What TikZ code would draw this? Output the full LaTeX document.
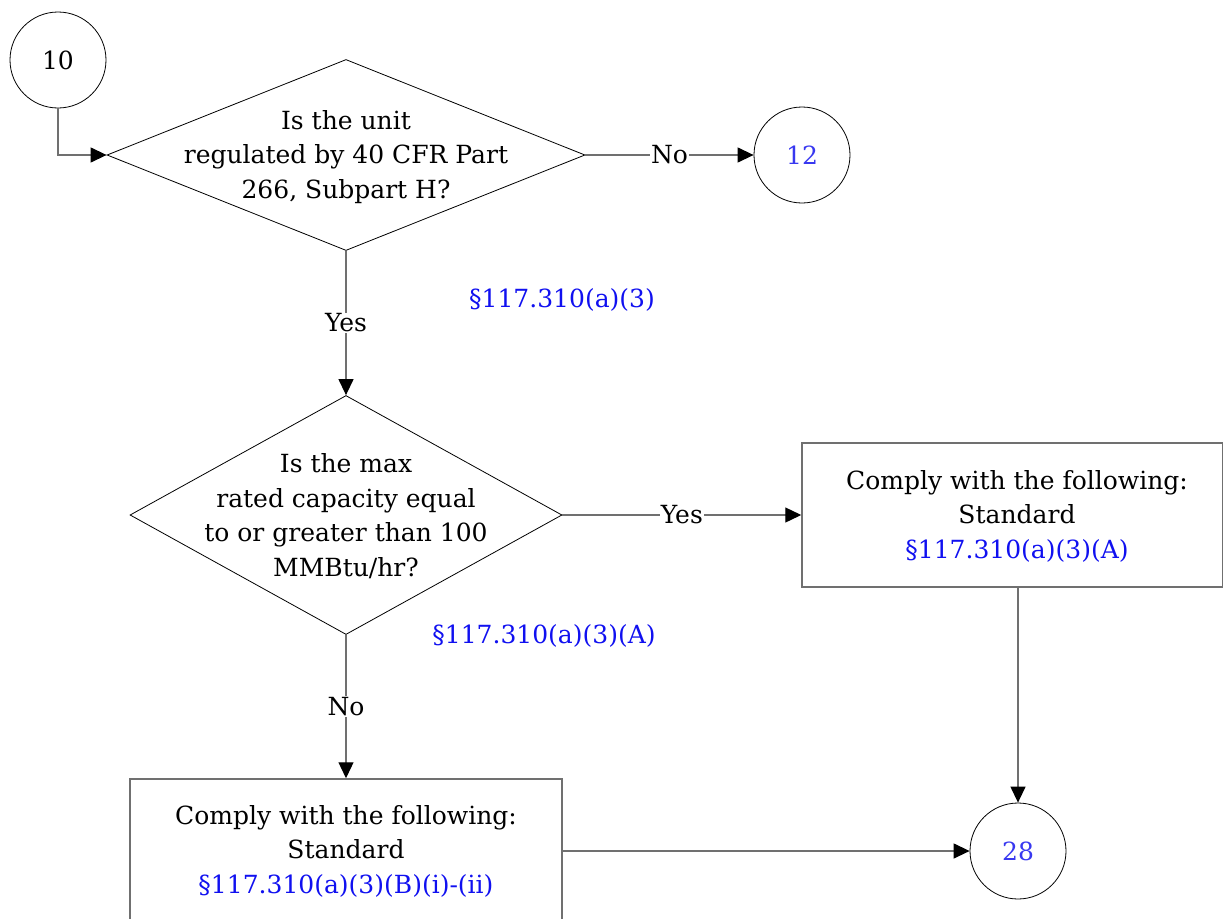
\documentclass[tikz,border=0pt]{standalone}
\usepackage{fontspec}
\setmainfont{DejaVu Serif}
\usetikzlibrary{shapes.geometric,arrows.meta}
\definecolor{linegray}{HTML}{707070}
\definecolor{refblue}{HTML}{1010F0}
\definecolor{numblue}{HTML}{3838F0}
\begin{document}
\begin{tikzpicture}[x=1pt,y=-1pt,
  every node/.style={font=\fontsize{25}{34.5}\selectfont},
  conn/.style={draw=linegray, line width=1.3pt, -{Triangle[length=16pt,width=15pt,color=black]}},
  dia/.style={diamond, draw=black, line width=0.8pt, inner sep=0pt, aspect=1},
  txt/.style={align=center, inner sep=0pt},
  boxst/.style={draw=linegray, line width=1.5pt, inner sep=0pt},
  conncirc/.style={circle, draw=black, line width=0.8pt, minimum size=96pt, inner sep=0pt},
  lab/.style={fill=white, inner sep=1pt},
  ref/.style={text=refblue}]
\useasboundingbox (0,0) rectangle (1223,918);

% start connector circle
\node[conncirc] (c10) at (58,60) {10};

% decision 1
\node[dia, minimum width=478pt, minimum height=191pt] (d1) at (346,155) {};
\node[txt] (d1t) at (346,157) {Is the unit\\regulated by 40 CFR Part\\266, Subpart H?};

% connector 12
\node[conncirc, text=numblue] (c12) at (802,155) {12};

% reference label
\node[ref, txt] (r1) at (562,300) {§117.310(a)(3)};

% decision 2
\node[dia, minimum width=432pt, minimum height=239pt] (d2) at (346,515) {};
\node[txt] (d2t) at (346,516) {Is the max\\rated capacity equal\\to or greater than 100\\MMBtu/hr?};

% box 1
\node[boxst, minimum width=421pt, minimum height=144pt] (b1) at (1012.5,515) {};
\node[txt] (b1t) at (1017,516) {Comply with the following:\\Standard\\\textcolor{refblue}{§117.310(a)(3)(A)}};

% reference label 2
\node[ref, txt] (r2) at (544,636) {§117.310(a)(3)(A)};

% box 2
\node[boxst, minimum width=432pt, minimum height=160pt] (b2) at (346,859) {};
\node[txt] (b2t) at (346,851) {Comply with the following:\\Standard\\\textcolor{refblue}{§117.310(a)(3)(B)(i)-(ii)}};

% connector 28
\node[conncirc, text=numblue] (c28) at (1018,851) {28};

% connectors
\draw[conn] (c10.south) |- (d1.west);
\draw[conn] (d1.east) -- node[lab] {No} (c12.west);
\draw[conn] (d1.south) -- node[lab, pos=0.50] {Yes} (d2.north);
\draw[conn] (d2.east) -- node[lab, pos=0.5] {Yes} (b1.west);
\draw[conn] (d2.south) -- node[lab, pos=0.5] {No} (b2.north);
\draw[conn] (b1.south -| c28.north) -- (c28.north);
\draw[conn] (b2.east |- c28.west) -- (c28.west);
\end{tikzpicture}
\end{document}
